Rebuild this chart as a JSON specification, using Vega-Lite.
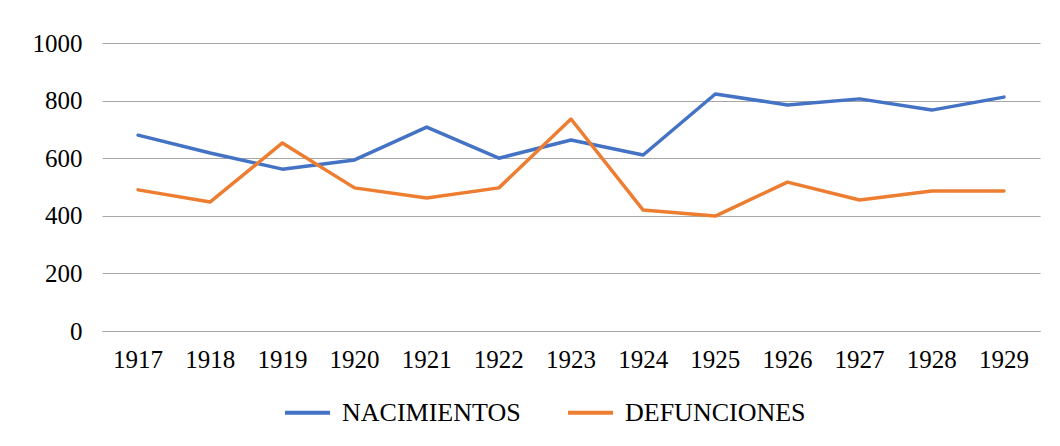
{
  "$schema": "https://vega.github.io/schema/vega-lite/v6.json",
  "width": 938,
  "height": 288,
  "autosize": {"type": "none"},
  "padding": {"left": 102, "top": 43, "right": 20, "bottom": 115},
  "background": "white",
  "config": {
    "view": {"stroke": null},
    "font": "Liberation Serif",
    "axis": {"labelFont": "Liberation Serif", "labelColor": "#000000", "labelFontSize": 25, "title": null},
    "legend": {"labelFont": "Liberation Serif", "labelColor": "#000000", "labelFontSize": 26, "labelLimit": 400}
  },
  "data": {
    "values": [
      {"year": "1917", "serie": "NACIMIENTOS", "value": 680},
      {"year": "1918", "serie": "NACIMIENTOS", "value": 618},
      {"year": "1919", "serie": "NACIMIENTOS", "value": 562},
      {"year": "1920", "serie": "NACIMIENTOS", "value": 594},
      {"year": "1921", "serie": "NACIMIENTOS", "value": 708},
      {"year": "1922", "serie": "NACIMIENTOS", "value": 600},
      {"year": "1923", "serie": "NACIMIENTOS", "value": 663},
      {"year": "1924", "serie": "NACIMIENTOS", "value": 611},
      {"year": "1925", "serie": "NACIMIENTOS", "value": 823},
      {"year": "1926", "serie": "NACIMIENTOS", "value": 785},
      {"year": "1927", "serie": "NACIMIENTOS", "value": 806},
      {"year": "1928", "serie": "NACIMIENTOS", "value": 767},
      {"year": "1929", "serie": "NACIMIENTOS", "value": 812},
      {"year": "1917", "serie": "DEFUNCIONES", "value": 490},
      {"year": "1918", "serie": "DEFUNCIONES", "value": 448},
      {"year": "1919", "serie": "DEFUNCIONES", "value": 653},
      {"year": "1920", "serie": "DEFUNCIONES", "value": 497},
      {"year": "1921", "serie": "DEFUNCIONES", "value": 462},
      {"year": "1922", "serie": "DEFUNCIONES", "value": 497},
      {"year": "1923", "serie": "DEFUNCIONES", "value": 736},
      {"year": "1924", "serie": "DEFUNCIONES", "value": 420},
      {"year": "1925", "serie": "DEFUNCIONES", "value": 399},
      {"year": "1926", "serie": "DEFUNCIONES", "value": 517},
      {"year": "1927", "serie": "DEFUNCIONES", "value": 455},
      {"year": "1928", "serie": "DEFUNCIONES", "value": 486},
      {"year": "1929", "serie": "DEFUNCIONES", "value": 486}
    ]
  },
  "mark": {"type": "line", "strokeWidth": 3.5, "strokeJoin": "round", "strokeCap": "round"},
  "encoding": {
    "x": {
      "field": "year", "type": "ordinal",
      "scale": {"type": "band", "paddingInner": 0, "paddingOuter": 0},
      "axis": {"labelAngle": 0, "ticks": false, "domainColor": "#a6a6a6", "domainWidth": 1, "labelPadding": 16, "grid": false}
    },
    "y": {
      "field": "value", "type": "quantitative",
      "scale": {"domain": [0, 1000], "nice": false},
      "axis": {"values": [0, 200, 400, 600, 800, 1000], "format": "d", "ticks": false, "domain": false, "gridColor": "#a6a6a6", "gridWidth": 1, "labelPadding": 20}
    },
    "color": {
      "field": "serie", "type": "nominal",
      "scale": {"domain": ["NACIMIENTOS", "DEFUNCIONES"], "range": ["#4472C4", "#ED7D31"]},
      "legend": {"title": null, "orient": "none", "legendX": 181, "legendY": 345, "direction": "horizontal", "symbolType": "stroke", "symbolStrokeWidth": 4, "symbolSize": 2025, "columnPadding": 39, "labelOffset": 10, "labelFont": "Liberation Serif", "labelFontSize": 26, "labelLimit": 400}
    }
  }
}
